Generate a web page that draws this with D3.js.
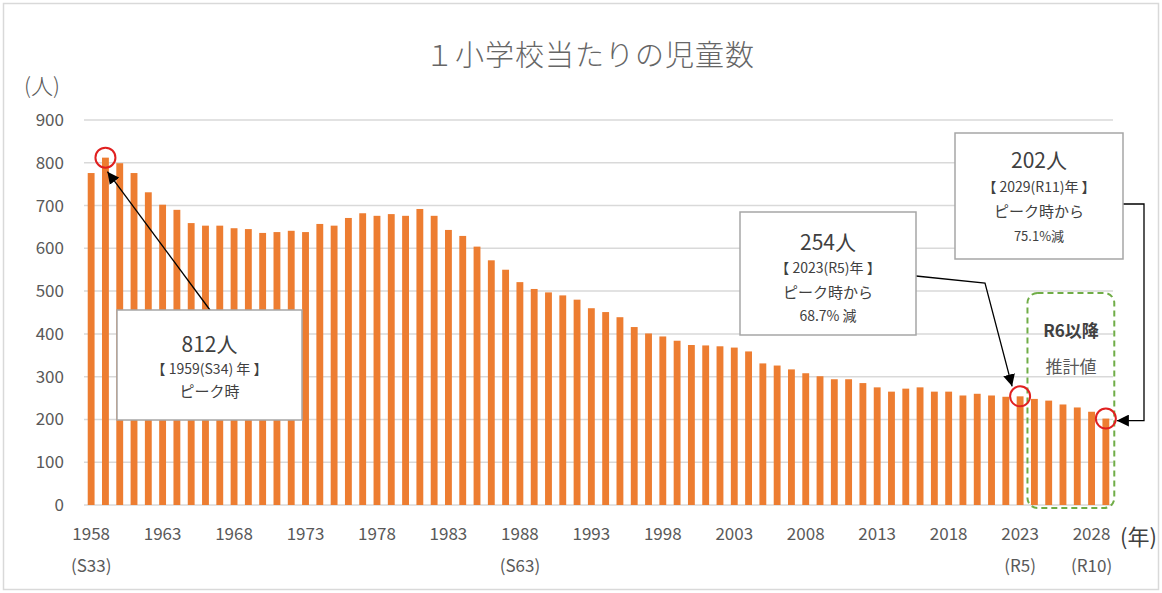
<!DOCTYPE html>
<html>
<head>
<meta charset="utf-8">
<script src="https://cdn.jsdelivr.net/npm/d3@7"></script>
<style>
  body { margin: 0; background: #fff; }
  svg { display: block; font-family: "Noto Sans CJK JP", "Noto Sans", sans-serif; }
</style>
</head>
<body>
<svg id="chart" width="1162" height="593"></svg>
<script>
// 年（1958〜2029）
const years = d3.range(1958, 2030);
// 1校当たりの児童数（人）
const students = [
  776, 812, 799, 776, 731, 702, 690, 659, 653, 653,
  647, 645, 636, 638, 641, 638, 657, 653, 671, 682,
  676, 680, 676, 692, 676, 643, 629, 604, 572, 550,
  521, 505, 497, 490, 480, 460, 451, 439, 416, 401,
  394, 384, 374, 373, 371, 368, 359, 331, 326, 317,
  308, 301, 294, 294, 285, 275, 265, 272, 275, 265,
  265, 256, 260, 256, 253, 254, 248, 244, 235, 228,
  218, 202
];
const yTicks = d3.range(0, 1000, 100);
const xTickYears = d3.range(1958, 2030, 5);
const eraLabels = { 1958: "(S33)", 1988: "(S63)", 2023: "(R5)", 2028: "(R10)" };

const svg = d3.select("#chart");
const textColor = "#595959";

// 外枠
svg.append("rect")
  .attr("x", 3.5).attr("y", 3.5).attr("width", 1155).attr("height", 586)
  .attr("fill", "#fff").attr("stroke", "#d9d9d9").attr("stroke-width", 1.5);

const x = d3.scaleBand().domain(years).range([84, 1113]).paddingInner(0.52).paddingOuter(0.26);
const y = d3.scaleLinear().domain([0, 900]).range([505, 120]);

// グリッド線
svg.append("g")
  .selectAll("line")
  .data(yTicks)
  .enter().append("line")
  .attr("x1", 84).attr("x2", 1113)
  .attr("y1", d => y(d)).attr("y2", d => y(d))
  .attr("stroke", "#d9d9d9").attr("stroke-width", 1.5);

// y軸ラベル
const yAxis = svg.append("g")
  .attr("transform", "translate(64,0)")
  .call(d3.axisLeft(y).tickValues(yTicks).tickSize(0).tickPadding(0));
yAxis.select(".domain").remove();
yAxis.selectAll("text")
  .attr("font-size", 17).attr("fill", textColor)
  .attr("font-family", "'Noto Sans CJK JP', sans-serif");

// 棒
svg.append("g")
  .selectAll("rect")
  .data(years)
  .enter().append("rect")
  .attr("x", d => x(d))
  .attr("width", x.bandwidth())
  .attr("y", (d, i) => y(students[i]))
  .attr("height", (d, i) => y(0) - y(students[i]))
  .attr("fill", "#ED7D31");

// x軸ラベル
const xAxis = svg.append("g")
  .attr("transform", "translate(0,523)")
  .call(d3.axisBottom(x).tickValues(xTickYears).tickSize(0).tickPadding(0));
xAxis.select(".domain").remove();
xAxis.selectAll("text")
  .attr("dy", "1em")
  .attr("font-size", 17).attr("fill", textColor)
  .attr("font-family", "'Noto Sans CJK JP', sans-serif");

svg.append("g")
  .selectAll("text")
  .data(Object.keys(eraLabels).map(Number))
  .enter().append("text")
  .attr("x", d => x(d) + x.bandwidth() / 2)
  .attr("y", 572)
  .attr("text-anchor", "middle")
  .attr("font-size", 17).attr("fill", textColor)
  .text(d => eraLabels[d]);

// 軸タイトル・タイトル
svg.append("text").attr("x", 590).attr("y", 66).attr("text-anchor", "middle")
  .attr("font-size", 29).attr("fill", "#666").attr("font-weight", 300).attr("letter-spacing", 1)
  .text("１小学校当たりの児童数");
svg.append("text").attr("x", 24).attr("y", 94)
  .attr("font-size", 22).attr("fill", textColor).attr("font-weight", 300).text("(人)");
svg.append("text").attr("x", 1120).attr("y", 545)
  .attr("font-size", 22).attr("fill", "#404040").text("(年)");

// 推計値の枠
svg.append("rect")
  .attr("x", x(2024) - 3.5).attr("y", 293)
  .attr("width", x(2029) + x.bandwidth() + 5 - (x(2024) - 3.5)).attr("height", 215)
  .attr("rx", 10)
  .attr("fill", "none").attr("stroke", "#70AD47").attr("stroke-width", 2)
  .attr("stroke-dasharray", "6,4");
svg.append("text").attr("x", 1071).attr("y", 337).attr("text-anchor", "middle")
  .attr("font-size", 17).attr("fill", "#404040").attr("font-weight", "bold").text("R6以降");
svg.append("text").attr("x", 1071).attr("y", 373).attr("text-anchor", "middle")
  .attr("font-size", 17).attr("fill", "#595959").text("推計値");

// 矢印
svg.append("defs").append("marker")
  .attr("id", "arrow").attr("viewBox", "0 0 10 10")
  .attr("refX", 10).attr("refY", 5)
  .attr("markerWidth", 12).attr("markerHeight", 12)
  .attr("markerUnits", "userSpaceOnUse")
  .attr("orient", "auto")
  .append("path").attr("d", "M0,0L10,5L0,10Z").attr("fill", "#000");

const cx = yr => x(yr) + x.bandwidth() / 2;
const valueOf = yr => students[years.indexOf(yr)];

function callout(box, lines, points) {
  svg.append("path")
    .attr("d", d3.line()(points))
    .attr("fill", "none").attr("stroke", "#000").attr("stroke-width", 1.3)
    .attr("marker-end", "url(#arrow)");
  svg.append("rect")
    .attr("x", box.x).attr("y", box.y).attr("width", box.w).attr("height", box.h)
    .attr("fill", "#fff").attr("stroke", "#a6a6a6").attr("stroke-width", 1.5);
  lines.forEach(l => {
    svg.append("text")
      .attr("x", box.x + box.w / 2).attr("y", box.y + l.dy)
      .attr("text-anchor", "middle")
      .attr("font-size", l.size).attr("fill", "#404040")
      .text(l.text);
  });
}

// 1959
callout({ x: 117, y: 310, w: 185, h: 110 }, [
  { text: "812人", dy: 42, size: 21 },
  { text: "【 1959(S34) 年 】", dy: 64, size: 14 },
  { text: "ピーク時", dy: 87, size: 15 }
], [[210, 310], [cx(1959) + 2, y(valueOf(1959)) + 14]]);

// 2023
callout({ x: 740, y: 212, w: 176, h: 123 }, [
  { text: "254人", dy: 38, size: 21 },
  { text: "【 2023(R5)年 】", dy: 61, size: 14 },
  { text: "ピーク時から", dy: 86, size: 15 },
  { text: "68.7% 減", dy: 109, size: 14 }
], [[916, 276], [985, 283], [cx(2023) - 8, y(valueOf(2023)) - 10]]);

// 2029
callout({ x: 955, y: 133, w: 168, h: 126 }, [
  { text: "202人", dy: 35, size: 21 },
  { text: "【 2029(R11)年 】", dy: 59, size: 14 },
  { text: "ピーク時から", dy: 84, size: 15 },
  { text: "75.1%減", dy: 108, size: 13 }
], [[1123, 204], [1144, 204], [1144, y(valueOf(2029)) + 2], [cx(2029) + 11, y(valueOf(2029)) + 2]]);

// 赤丸
[1959, 2023, 2029].forEach(yr => {
  svg.append("circle")
    .attr("cx", cx(yr)).attr("cy", y(valueOf(yr)))
    .attr("r", 10)
    .attr("fill", "none").attr("stroke", "#E02020").attr("stroke-width", 2);
});
</script>
</body>
</html>
